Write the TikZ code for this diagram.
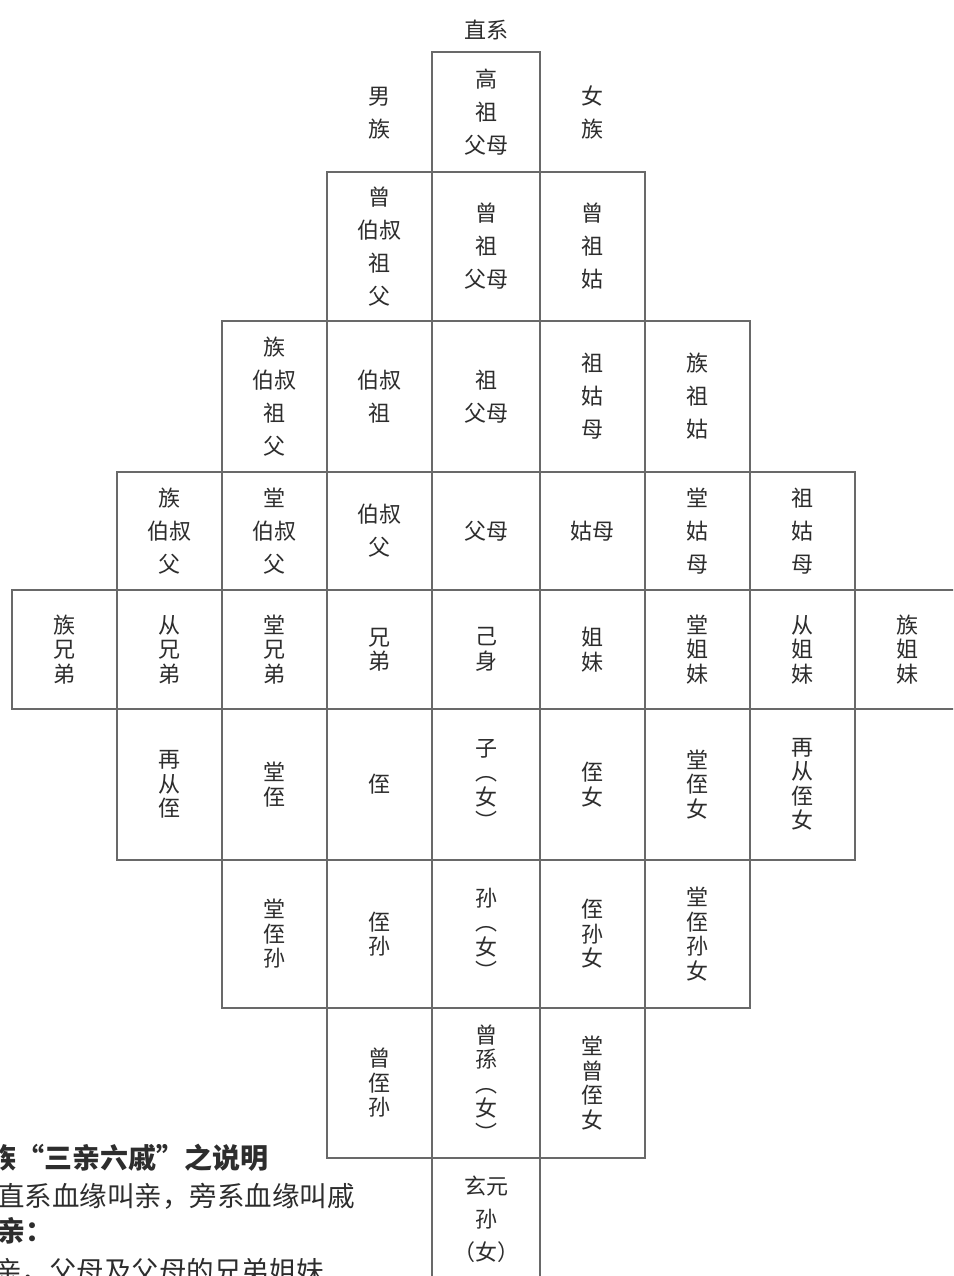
\documentclass[tikz,border=0pt]{standalone}
\usepackage{fontspec}
\setmainfont{Noto Sans CJK SC}
\definecolor{linec}{RGB}{105,105,105}
\definecolor{txt}{RGB}{45,45,45}
\newcommand\loosefont{\fontsize{22}{33}\selectfont}
\newcommand\tightfont{\fontsize{22}{24.5}\selectfont}
\begin{document}
\begin{tikzpicture}[x=1pt,y=-1pt,
  cell/.style={draw=linec, line width=1.3pt, rectangle, inner sep=0pt, outer sep=0pt,
               align=center, text=txt, minimum width=105pt},
  mid/.style={minimum width=108pt},
  loose/.style={font=\loosefont},
  tight/.style={font=\tightfont},
  h0/.style={minimum height=120pt},
  h1/.style={minimum height=149pt},
  h2/.style={minimum height=151pt},
  h3/.style={minimum height=118pt},
  h4/.style={minimum height=119pt},
  h5/.style={minimum height=151pt},
  h6/.style={minimum height=148pt},
  h7/.style={minimum height=150pt},
  h8/.style={minimum height=122pt},
  lbl/.style={align=center, text=txt, inner sep=0pt, font=\loosefont},
  note/.style={anchor=base west, inner sep=0pt, text=txt}]
\useasboundingbox (0,0) rectangle (953,1276);
\clip (0,0) rectangle (953,1276);
\fill[white] (0,0) rectangle (953,1276);

% header labels
\node[lbl] (zhixi) at (486,30) {直系};
\node[lbl] (nanzu) at (379.5,113) {男\\族};
\node[lbl] (nvzu) at (592.5,113) {女\\族};

% row 0
\node[cell,mid,h0,loose] (r0c4) at (486,112) {高\\祖\\父母};

% row 1
\node[cell,h1,loose] (r1c3) at (379.5,246.5) {曾\\伯叔\\祖\\父};
\node[cell,mid,h1,loose] (r1c4) at (486,246.5) {曾\\祖\\父母};
\node[cell,h1,loose] (r1c5) at (592.5,246.5) {曾\\祖\\姑};

% row 2
\node[cell,h2,loose] (r2c2) at (274.5,396.5) {族\\伯叔\\祖\\父};
\node[cell,h2,loose] (r2c3) at (379.5,396.5) {伯叔\\祖};
\node[cell,mid,h2,loose] (r2c4) at (486,396.5) {祖\\父母};
\node[cell,h2,loose] (r2c5) at (592.5,396.5) {祖\\姑\\母};
\node[cell,h2,loose] (r2c6) at (697.5,396.5) {族\\祖\\姑};

% row 3
\node[cell,h3,loose] (r3c1) at (169.5,531) {族\\伯叔\\父};
\node[cell,h3,loose] (r3c2) at (274.5,531) {堂\\伯叔\\父};
\node[cell,h3,loose] (r3c3) at (379.5,531) {伯叔\\父};
\node[cell,mid,h3,loose] (r3c4) at (486,531) {父母};
\node[cell,h3,loose] (r3c5) at (592.5,531) {姑母};
\node[cell,h3,loose] (r3c6) at (697.5,531) {堂\\姑\\母};
\node[cell,h3,loose] (r3c7) at (802.5,531) {祖\\姑\\母};

% row 4
\node[cell,h4,tight] (r4c0) at (64.5,649.5) {族\\兄\\弟};
\node[cell,h4,tight] (r4c1) at (169.5,649.5) {从\\兄\\弟};
\node[cell,h4,tight] (r4c2) at (274.5,649.5) {堂\\兄\\弟};
\node[cell,h4,tight] (r4c3) at (379.5,649.5) {兄\\弟};
\node[cell,mid,h4,tight] (r4c4) at (486,649.5) {己\\身};
\node[cell,h4,tight] (r4c5) at (592.5,649.5) {姐\\妹};
\node[cell,h4,tight] (r4c6) at (697.5,649.5) {堂\\姐\\妹};
\node[cell,h4,tight] (r4c7) at (802.5,649.5) {从\\姐\\妹};
\node[cell,h4,tight] (r4c8) at (907.5,649.5) {族\\姐\\妹};

% row 5
\node[cell,h5,tight] (r5c1) at (169.5,784.5) {再\\从\\侄};
\node[cell,h5,tight] (r5c2) at (274.5,784.5) {堂\\侄};
\node[cell,h5,tight] (r5c3) at (379.5,784.5) {侄};
\node[cell,mid,h5,tight] (r5c4) at (486,784.5) {子\\︵\\女\\︶};
\node[cell,h5,tight] (r5c5) at (592.5,784.5) {侄\\女};
\node[cell,h5,tight] (r5c6) at (697.5,784.5) {堂\\侄\\女};
\node[cell,h5,tight] (r5c7) at (802.5,784.5) {再\\从\\侄\\女};

% row 6
\node[cell,h6,tight] (r6c2) at (274.5,934) {堂\\侄\\孙};
\node[cell,h6,tight] (r6c3) at (379.5,934) {侄\\孙};
\node[cell,mid,h6,tight] (r6c4) at (486,934) {孙\\︵\\女\\︶};
\node[cell,h6,tight] (r6c5) at (592.5,934) {侄\\孙\\女};
\node[cell,h6,tight] (r6c6) at (697.5,934) {堂\\侄\\孙\\女};

% row 7
\node[cell,h7,tight] (r7c3) at (379.5,1083) {曾\\侄\\孙};
\node[cell,mid,h7,tight] (r7c4) at (486,1083) {曾\\孫\\︵\\女\\︶};
\node[cell,h7,tight] (r7c5) at (592.5,1083) {堂\\曾\\侄\\女};

% row 8
\node[cell,mid,h8,loose] (r8c4) at (486,1219) {玄元\\孙\\（女）};

% notes
\node[note, font=\bfseries\fontsize{28}{28}\selectfont] (title) at (-12,1168) {族“三亲六戚”之说明};
\node[note, font=\fontsize{27.5}{28}\selectfont] (line2) at (-3,1206) {直系血缘叫亲，旁系血缘叫戚};
\node[note, font=\bfseries\fontsize{28}{28}\selectfont] (line3) at (-3,1241) {亲：};
\node[note, font=\fontsize{27.5}{28}\selectfont] (line4) at (-6,1281) {亲，父母及父母的兄弟姐妹};
\end{tikzpicture}
\end{document}
